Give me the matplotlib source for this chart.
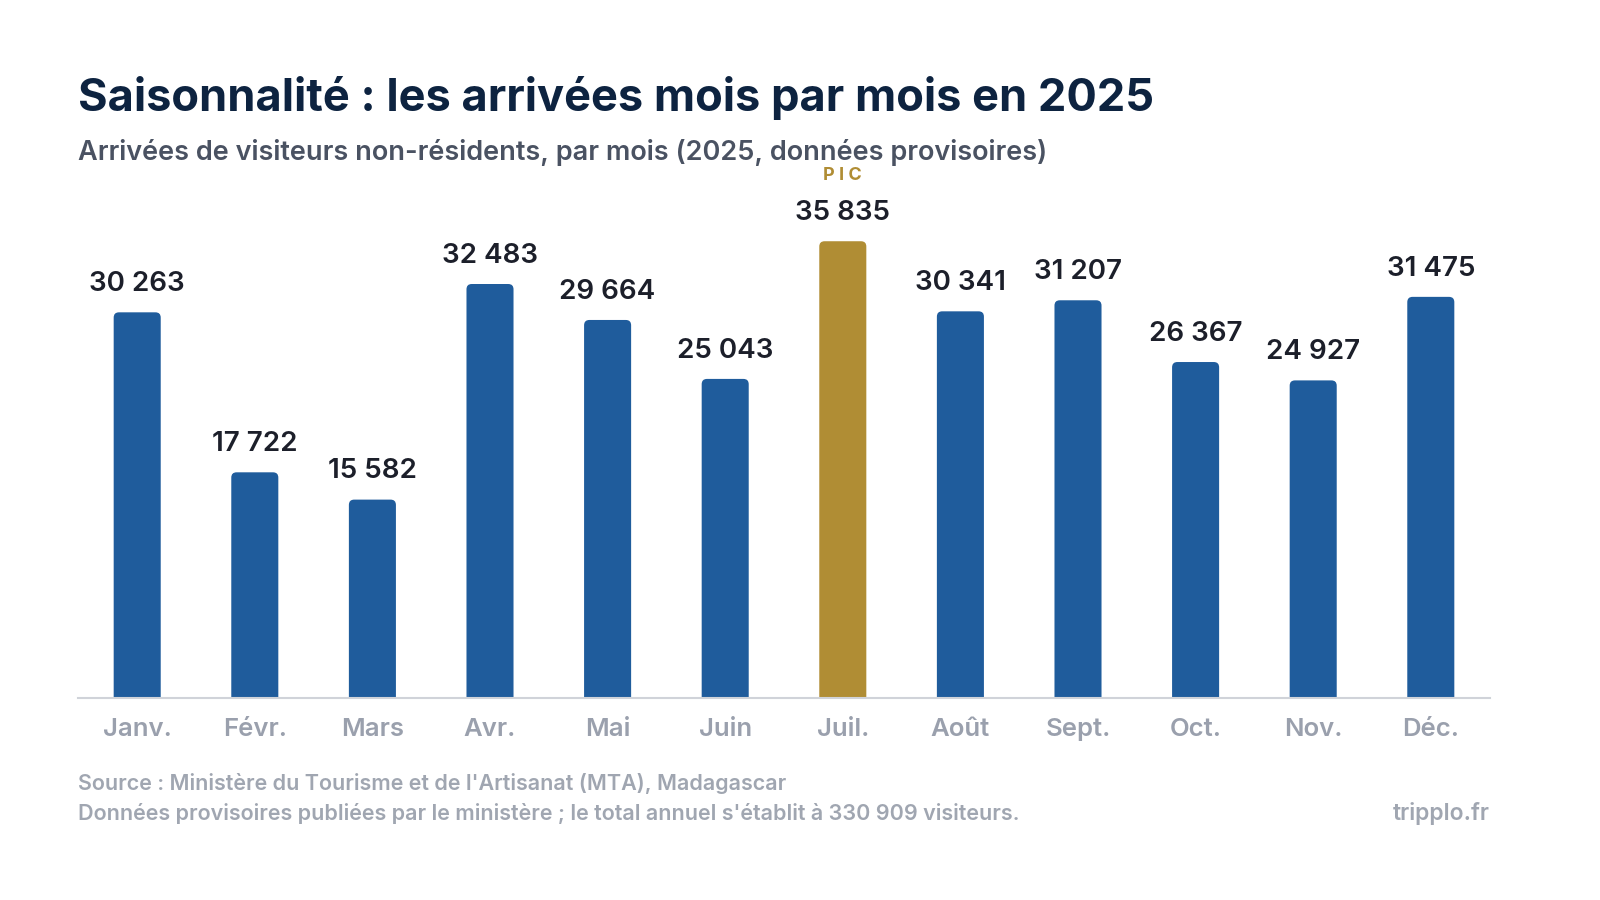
import matplotlib.pyplot as plt
from matplotlib.patches import FancyBboxPatch

months = ["Janv.", "Févr.", "Mars", "Avr.", "Mai", "Juin", "Juil.", "Août", "Sept.", "Oct.", "Nov.", "Déc."]
arrivals = [30263, 17722, 15582, 32483, 29664, 25043, 35835, 30341, 31207, 26367, 24927, 31475]
peak = arrivals.index(max(arrivals))

blue = "#1f5c9c"
gold = "#b08d34"
plt.rcParams['font.family'] = ['Inter', 'DejaVu Sans']

fig = plt.figure(figsize=(16, 9), dpi=100)
ax = fig.add_axes([0.049, 0.224, 0.882, 0.567])
ax.set_xlim(-0.5, 11.5)
ax.set_ylim(0, 40000)

# px per unit, for rounded corners
px_x = 0.882 * 1600 / 12
px_y = 0.567 * 900 / 40000
for i, v in enumerate(arrivals):
    c = gold if i == peak else blue
    p = FancyBboxPatch((i - 0.2, -2000), 0.4, v + 2000,
                       boxstyle="round,pad=0,rounding_size=0.045",
                       mutation_aspect=px_x / px_y, fc=c, ec="none")
    ax.add_patch(p)
    txt = f"{v:,}".replace(",", " ")
    ax.text(i, v + 1200, txt, ha="center", va="bottom", fontsize=20,
            fontweight="semibold", color="#1c1f2a")
ax.text(peak, arrivals[peak] + 4500, "P I C", ha="center", va="bottom",
        fontsize=13, fontweight="bold", color=gold)

ax.set_xticks(range(12), months)
ax.tick_params(axis="x", length=0, pad=14, labelsize=18.5, labelcolor="#9aa0ad")
for lab in ax.get_xticklabels():
    lab.set_fontweight("semibold")
ax.set_yticks([])
for s in ["top", "right", "left"]:
    ax.spines[s].set_visible(False)
ax.spines["bottom"].set_color("#d0d3d9")
ax.spines["bottom"].set_linewidth(1.5)

fig.text(0.049, 0.891, "Saisonnalité : les arrivées mois par mois en 2025",
         fontsize=32.5, fontweight="bold", color="#0d2340", va="center")
fig.text(0.049, 0.830, "Arrivées de visiteurs non-résidents, par mois (2025, données provisoires)",
         fontsize=19.5, fontweight="semibold", color="#4a5262", va="center")
fig.text(0.049, 0.130, "Source : Ministère du Tourisme et de l'Artisanat (MTA), Madagascar",
         fontsize=15.5, fontweight="semibold", color="#a0a6b1", va="center")
fig.text(0.049, 0.096, "Données provisoires publiées par le ministère ; le total annuel s'établit à 330 909 visiteurs.",
         fontsize=15.5, fontweight="semibold", color="#a0a6b1", va="center")
fig.text(0.931, 0.096, "tripplo.fr", fontsize=16.5, fontweight="semibold",
         color="#a0a6b1", va="center", ha="right")

fig.savefig("out.png", dpi=100, facecolor="white")
